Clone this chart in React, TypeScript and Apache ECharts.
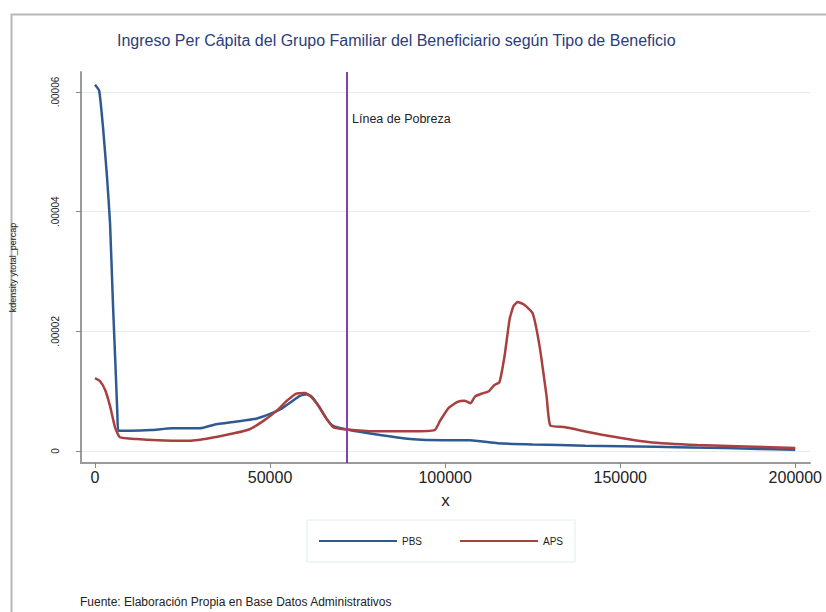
import React, { useEffect, useRef } from "react";
import * as echarts from "echarts";

const titleText = "Ingreso Per Cápita del Grupo Familiar del Beneficiario según Tipo de Beneficio";
const xTicks = [0, 50000, 100000, 150000, 200000];
const yTicks = [0, 0.00002, 0.00004, 0.00006];
const povertyLine = 72000;

const pbsX = [0, 1200, 2300, 3400, 4300, 5100, 6000, 6400, 6700, 10000, 16000, 22000, 30000, 34000, 40000, 46000, 50000, 53000, 56000, 58500, 60500, 62000, 64000, 66000, 68000, 72000, 80000, 90000, 100000, 107000, 115000, 125000, 140000, 160000, 180000, 200000];
const pbsY = [6.12e-5, 6.02e-5, 5.4e-5, 4.6e-5, 3.8e-5, 2.5e-5, 1.2e-5, 6e-6, 3.4e-6, 3.4e-6, 3.5e-6, 3.8e-6, 3.8e-6, 4.4e-6, 4.9e-6, 5.4e-6, 6.2e-6, 7.0e-6, 8.2e-6, 9.2e-6, 9.5e-6, 9.0e-6, 7.4e-6, 5.5e-6, 4.2e-6, 3.6e-6, 2.8e-6, 2.0e-6, 1.8e-6, 1.8e-6, 1.3e-6, 1.1e-6, 0.9e-6, 0.7e-6, 0.5e-6, 0.2e-6];

const apsX = [0, 1400, 2900, 4300, 5700, 7100, 12000, 18000, 25000, 30000, 35000, 40000, 44000, 48000, 52000, 55000, 57500, 60000, 62000, 64000, 66000, 68000, 72000, 80000, 90000, 97000, 98500, 101000, 103500, 105500, 107300, 108500, 110500, 112500, 114000, 115500, 117000, 118400, 119500, 120700, 122500, 125000, 127000, 129000, 130000, 134000, 144000, 158000, 172000, 200000];
const apsY = [1.22e-5, 1.17e-5, 1.02e-5, 7.5e-6, 4.0e-6, 2.3e-6, 2.0e-6, 1.8e-6, 1.7e-6, 1.9e-6, 2.4e-6, 3.0e-6, 3.6e-6, 5.0e-6, 6.8e-6, 8.5e-6, 9.6e-6, 9.7e-6, 8.9e-6, 7.4e-6, 5.5e-6, 4.0e-6, 3.6e-6, 3.3e-6, 3.3e-6, 3.5e-6, 5.0e-6, 7.2e-6, 8.2e-6, 8.4e-6, 8.0e-6, 9.1e-6, 9.6e-6, 1.0e-5, 1.1e-5, 1.15e-5, 1.6e-5, 2.2e-5, 2.42e-5, 2.49e-5, 2.45e-5, 2.3e-5, 1.74e-5, 9e-6, 4.3e-6, 4.0e-6, 2.8e-6, 1.5e-6, 1.0e-6, 0.5e-6];

const seriesNames = ["PBS", "APS"];
const seriesColors = ["#2f5a91", "#a8403f"];

const FONT = "Liberation Sans, Arial, sans-serif";

export default function App() {
  const ref = useRef<HTMLDivElement>(null);
  useEffect(() => {
    document.body.style.margin = "0";
    const chart = echarts.init(ref.current!, null, { renderer: "svg" });
    const pbs = pbsX.map((x, i) => [x, pbsY[i]]);
    const aps = apsX.map((x, i) => [x, apsY[i]]);
    chart.setOption({
      animation: false,
      backgroundColor: "#ffffff",
      textStyle: { fontFamily: FONT },
      title: {
        text: titleText,
        left: 112,
        top: 27,
        textStyle: { fontSize: 16, fontWeight: "normal", color: "#2b3d7a", fontFamily: FONT },
      },
      grid: { left: 80, right: 16, top: 72, bottom: 149 },
      xAxis: {
        type: "value",
        min: -4000,
        max: 204200,
        name: "x",
        nameLocation: "middle",
        nameGap: 29,
        nameTextStyle: { fontSize: 17, color: "#222", fontFamily: FONT },
        axisLine: { show: true, onZero: false, lineStyle: { color: "#9a9a9a", width: 2 } },
        axisTick: { show: true, customValues: xTicks, length: 5, lineStyle: { color: "#888" } },
        axisLabel: {
          customValues: xTicks,
          fontSize: 16,
          color: "#222",
          margin: 6,
          fontFamily: FONT,
          formatter: (v: number) => String(v),
        },
        splitLine: { show: false },
      },
      yAxis: {
        type: "value",
        min: -2.0e-6,
        max: 6.334e-5,
        name: "kdensity ytotal_percap",
        nameLocation: "middle",
        nameGap: 64,
        nameRotate: 90,
        nameTextStyle: { fontSize: 9, color: "#222", fontFamily: FONT },
        axisLine: { show: true, onZero: false, lineStyle: { color: "#9a9a9a", width: 2 } },
        axisTick: { show: true, customValues: yTicks, length: 5, lineStyle: { color: "#888" } },
        axisLabel: {
          customValues: yTicks,
          rotate: 90,
          fontSize: 10,
          color: "#222",
          margin: 21,
          fontFamily: FONT,
          formatter: (v: number) => (v === 0 ? "0" : v.toFixed(5).replace(/^0/, "")),
        },
        splitLine: { show: true, lineStyle: { color: "#e1ecf1", width: 1 } },
      },
      legend: {
        left: 307,
        top: 520,
        padding: [16, 12],
        borderColor: "#e3ecf0",
        borderWidth: 1,
        itemWidth: 78,
        itemHeight: 2,
        itemGap: 38,
        icon: "rect",
        textStyle: { fontSize: 10, color: "#222", fontFamily: FONT },
        data: seriesNames,
      },
      series: [
        {
          name: seriesNames[0],
          type: "line",
          data: pbs,
          showSymbol: false,
          smooth: 0.15,
          lineStyle: { color: seriesColors[0], width: 2.5 },
          itemStyle: { color: seriesColors[0] },
          z: 3,
        },
        {
          name: seriesNames[1],
          type: "line",
          data: aps,
          showSymbol: false,
          smooth: 0.15,
          lineStyle: { color: seriesColors[1], width: 2.5 },
          itemStyle: { color: seriesColors[1] },
          z: 4,
          markLine: {
            silent: true,
            symbol: "none",
            label: { show: false },
            lineStyle: { color: "#8a3fa6", width: 2, type: "solid" },
            data: [{ xAxis: povertyLine }],
          },
        },
      ],
      graphic: [
        {
          type: "rect",
          left: 9,
          top: 12,
          shape: { width: 840, height: 640 },
          style: { fill: "none", stroke: "#b8b8b8", lineWidth: 2 },
          silent: true,
          z: -1,
        },
        {
          type: "text",
          left: 352,
          top: 112,
          style: { text: "Línea de Pobreza", fontSize: 12.5, fill: "#222", fontFamily: FONT },
        },
        {
          type: "text",
          left: 80,
          top: 596,
          style: { text: "Fuente: Elaboración Propia en Base Datos Administrativos", fontSize: 12, fill: "#222", fontFamily: FONT },
        },
      ],
    });
    return () => chart.dispose();
  }, []);
  return <div ref={ref} style={{ width: 826, height: 612 }} />;
}
